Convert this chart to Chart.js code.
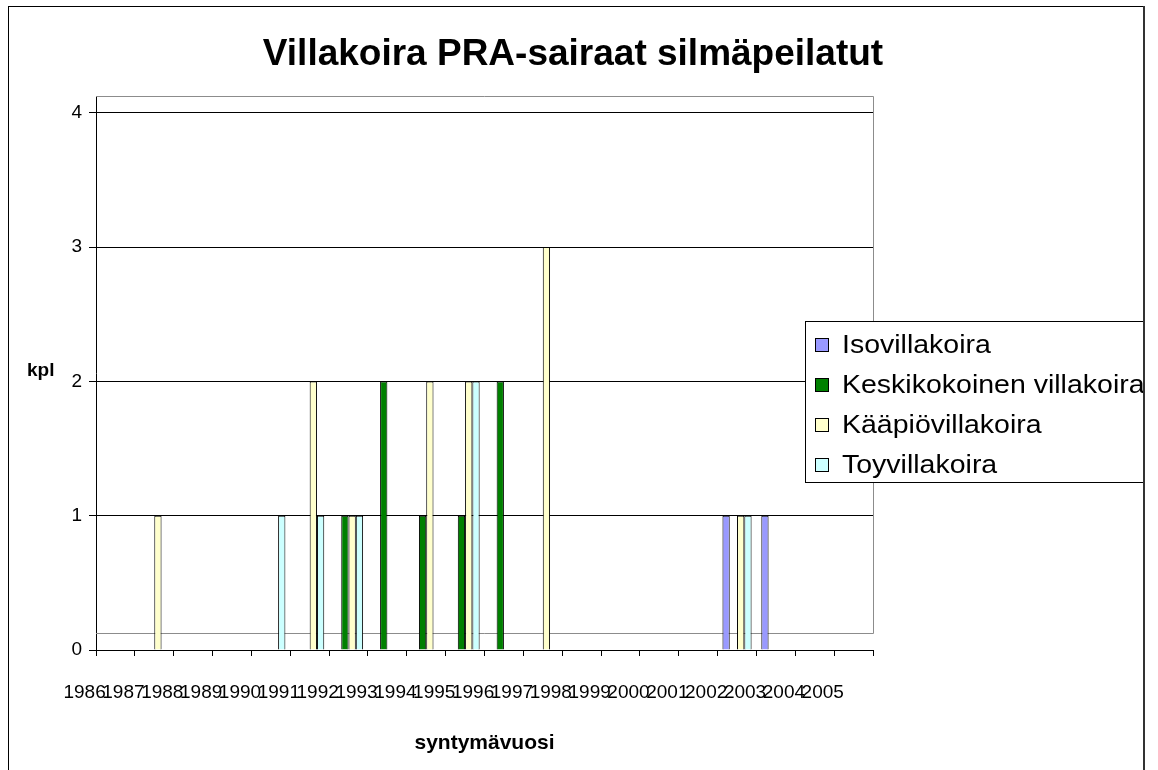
<!DOCTYPE html>
<html lang="fi">

<head>
    <meta charset="UTF-8">
    <title>Villakoira PRA-sairaat silmäpeilatut</title>
    <script src="https://cdn.jsdelivr.net/npm/chart.js@4.4.0/dist/chart.umd.min.js"></script>
    <style>
        body { margin: 0; background: #fff; }
        #wrap { width: 1158px; height: 770px; position: relative; }
    </style>
</head>

<body>
    <div id="wrap"><canvas id="chart"></canvas></div>

    <script>
        // data, one value per year
        const years = [1986, 1987, 1988, 1989, 1990, 1991, 1992, 1993, 1994, 1995,
            1996, 1997, 1998, 1999, 2000, 2001, 2002, 2003, 2004, 2005];
        const isovillakoira = [0, 0, 0, 0, 0, 0, 0, 0, 0, 0, 0, 0, 0, 0, 0, 0, 0, 1, 1, 0];
        const keskikokoinen = [0, 0, 0, 0, 0, 0, 0, 1, 2, 1, 1, 2, 0, 0, 0, 0, 0, 0, 0, 0];
        const kaapiovillakoira = [0, 0, 1, 0, 0, 0, 2, 1, 0, 2, 2, 0, 3, 0, 0, 0, 0, 1, 0, 0];
        const toyvillakoira = [0, 0, 0, 0, 0, 1, 1, 1, 0, 0, 2, 0, 0, 0, 0, 0, 0, 1, 0, 0];
        const seriesNames = ['Isovillakoira', 'Keskikokoinen villakoira', 'Kääpiövillakoira', 'Toyvillakoira'];
        const yTicks = [0, 1, 2, 3, 4];

        const seriesValues = [isovillakoira, keskikokoinen, kaapiovillakoira, toyvillakoira];
        const seriesColors = ['#9999ff', '#008000', '#ffffcc', '#ccffff'];
        const FONT = '"Liberation Sans", Arial, sans-serif';

        Chart.defaults.font.family = FONT;
        Chart.defaults.color = '#000';

        // the original is drawn one slot to the right of its year labels, keep that
        const xMin = years[0] + 0.5;
        const xMax = years[years.length - 1] + 1.5;

        const decor = {
            id: 'decor',
            beforeDraw(chart) {
                const ctx = chart.ctx;
                ctx.save();
                ctx.fillStyle = '#fff';
                ctx.fillRect(0, 0, chart.width, chart.height);
                ctx.restore();
            },
            beforeDatasetsDraw(chart) {
                // grey wall + floor of the plot area
                const { left, right, top, bottom } = chart.chartArea;
                const floor = bottom - 17;
                const ctx = chart.ctx;
                ctx.save();
                ctx.strokeStyle = '#8c8c8c';
                ctx.lineWidth = 1;
                ctx.beginPath();
                ctx.moveTo(left, top + 0.5);
                ctx.lineTo(right + 0.5, top + 0.5);
                ctx.lineTo(right + 0.5, floor + 0.5);
                ctx.lineTo(left, floor + 0.5);
                ctx.stroke();
                ctx.restore();
            },
            afterDraw(chart) {
                const ctx = chart.ctx;
                ctx.save();
                // title
                ctx.fillStyle = '#000';
                ctx.font = 'bold 37px ' + FONT;
                ctx.textAlign = 'center';
                ctx.textBaseline = 'alphabetic';
                ctx.fillText('Villakoira PRA-sairaat silmäpeilatut', 573, 65);
                // y axis title, horizontal
                ctx.font = 'bold 19px ' + FONT;
                ctx.textAlign = 'left';
                ctx.fillText('kpl', 27, 376);
                // legend
                ctx.fillStyle = '#fff';
                ctx.fillRect(805, 321, 338, 161);
                ctx.strokeStyle = '#000';
                ctx.lineWidth = 1;
                ctx.strokeRect(805.5, 321.5, 338, 161);
                ctx.font = '25px ' + FONT;
                ctx.textBaseline = 'middle';
                chart.data.datasets.forEach((ds, i) => {
                    const cy = 345 + 40 * i;
                    ctx.fillStyle = ds.backgroundColor;
                    ctx.fillRect(815.5, cy - 6.5, 13, 13);
                    ctx.strokeRect(815.5, cy - 6.5, 13, 13);
                    ctx.fillStyle = '#000';
                    // legend text in the original is a bit wide
                    ctx.save();
                    ctx.translate(842, cy + 1);
                    ctx.scale(1.14, 1);
                    ctx.fillText(ds.label, 0, 0);
                    ctx.restore();
                });
                // outer frame
                ctx.strokeStyle = '#000';
                ctx.strokeRect(8.5, 6.5, 1135, 800);
                ctx.fillStyle = '#333';
                ctx.fillRect(1143, 6, 2, 770);
                ctx.restore();
            }
        };

        new Chart(document.getElementById('chart'), {
            type: 'bar',
            data: {
                datasets: seriesNames.map((name, i) => ({
                    label: name,
                    data: years.map((yr, j) => ({ x: yr, y: seriesValues[i][j] })),
                    backgroundColor: seriesColors[i],
                    borderColor: '#000',
                    borderWidth: 1,
                    categoryPercentage: 0.75,
                    barPercentage: 1
                }))
            },
            options: {
                responsive: true,
                maintainAspectRatio: false,
                animation: false,
                layout: { padding: { top: 96, right: 285, bottom: 14, left: 0 } },
                plugins: {
                    legend: { display: false },
                    title: { display: false },
                    tooltip: { enabled: false }
                },
                scales: {
                    x: {
                        type: 'linear',
                        min: xMin,
                        max: xMax,
                        bounds: 'data',
                        offset: false,
                        weight: 0,
                        afterBuildTicks: s => {
                            s.ticks = years.map(yr => ({ value: yr + 0.5 })).concat([{ value: xMax }]);
                        },
                        ticks: { display: false },
                        grid: { offset: false, drawOnChartArea: false, color: '#000', tickLength: 6 },
                        border: { color: '#000' }
                    },
                    xl: {
                        type: 'linear',
                        position: 'bottom',
                        min: xMin,
                        max: xMax,
                        bounds: 'data',
                        offset: false,
                        weight: 1,
                        afterBuildTicks: s => {
                            s.ticks = years.map(yr => ({ value: yr }));
                        },
                        ticks: {
                            autoSkip: false,
                            maxRotation: 0,
                            minRotation: 0,
                            padding: 25,
                            labelOffset: 8,
                            font: { size: 19 },
                            callback: v => String(v)
                        },
                        grid: { display: false, drawTicks: false, offset: false },
                        border: { display: false },
                        title: {
                            display: true,
                            text: 'syntymävuosi',
                            font: { size: 21, weight: 'bold' },
                            padding: { top: 2, bottom: 0 }
                        }
                    },
                    y: {
                        min: 0,
                        max: 4.125,
                        afterBuildTicks: s => {
                            s.ticks = yTicks.map(v => ({ value: v }));
                        },
                        afterFit: s => { s.width = 96; },
                        ticks: { font: { size: 19 }, padding: 7 },
                        grid: { color: '#000', tickLength: 7 },
                        border: { color: '#000' }
                    }
                }
            },
            plugins: [decor]
        });
    </script>
</body>

</html>
